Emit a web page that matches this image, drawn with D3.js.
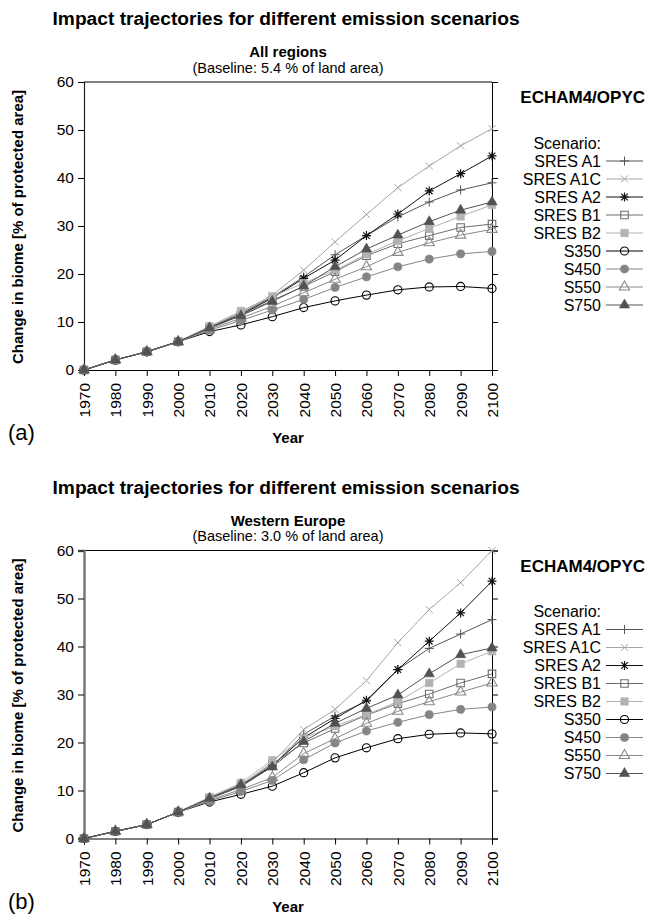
<!DOCTYPE html>
<html>
<head>
<meta charset="utf-8">
<script src="https://cdn.jsdelivr.net/npm/d3@7.9.0/dist/d3.min.js"></script>
<style>
  body { margin: 0; background: #fff; }
  svg { display: block; font-family: "Liberation Sans", Arial, sans-serif; }
</style>
</head>
<body>
<svg id="chart" width="649" height="916"></svg>
<script>
// decades on the x axis
const years = [1970, 1980, 1990, 2000, 2010, 2020, 2030, 2040, 2050, 2060, 2070, 2080, 2090, 2100];
const scenarios = ['SRES A1', 'SRES A1C', 'SRES A2', 'SRES B1', 'SRES B2', 'S350', 'S450', 'S550', 'S750'];

// (a) All regions
const allA1   = [0, 2.1, 3.8, 5.9, 8.9, 11.8, 15.2, 19.4, 24.0, 28.0, 31.9, 35.0, 37.5, 39.0];
const allA1C  = [0, 2.1, 3.8, 5.9, 9.0, 12.0, 15.6, 20.8, 26.7, 32.4, 38.0, 42.5, 46.7, 50.3];
const allA2   = [0, 2.1, 3.8, 5.9, 8.8, 11.5, 15.0, 19.1, 22.9, 28.0, 32.5, 37.3, 40.9, 44.6];
const allB1   = [0, 2.1, 3.8, 5.9, 8.7, 11.4, 14.5, 17.4, 20.5, 23.8, 26.3, 28.0, 29.7, 30.4];
const allB2   = [0, 2.1, 3.8, 5.9, 9.1, 12.3, 15.3, 18.1, 20.8, 24.1, 26.9, 29.5, 32.0, 34.4];
const allS350 = [0, 2.1, 3.8, 5.9, 8.0, 9.4, 11.1, 13.0, 14.4, 15.6, 16.7, 17.3, 17.4, 17.0];
const allS450 = [0, 2.1, 3.8, 5.9, 8.3, 10.3, 12.5, 14.7, 17.2, 19.4, 21.5, 23.1, 24.2, 24.7];
const allS550 = [0, 2.1, 3.8, 5.9, 8.5, 10.8, 13.3, 16.1, 18.9, 21.5, 24.5, 26.5, 28.1, 29.3];
const allS750 = [0, 2.1, 3.8, 5.9, 8.8, 11.3, 14.3, 17.5, 21.5, 25.2, 28.1, 30.9, 33.3, 35.0];

// (b) Western Europe
const weA1   = [0, 1.5, 2.9, 5.5, 8.3, 10.8, 15.0, 21.7, 25.5, 28.6, 35.2, 39.6, 42.6, 45.6];
const weA1C  = [0, 1.5, 2.9, 5.5, 8.5, 11.2, 15.8, 22.7, 26.9, 32.9, 40.8, 47.7, 53.3, 60.0];
const weA2   = [0, 1.5, 2.9, 5.5, 8.4, 11.0, 15.2, 21.0, 25.0, 28.8, 35.2, 41.1, 47.0, 53.6];
const weB1   = [0, 1.5, 2.9, 5.5, 8.3, 11.0, 15.5, 19.9, 22.9, 25.7, 28.1, 30.1, 32.4, 34.3];
const weB2   = [0, 1.5, 2.9, 5.5, 8.6, 11.6, 16.3, 21.0, 23.4, 25.8, 28.5, 32.4, 36.4, 39.0];
const weS350 = [0, 1.5, 2.9, 5.5, 7.6, 9.2, 10.9, 13.7, 16.8, 18.9, 20.8, 21.7, 22.0, 21.8];
const weS450 = [0, 1.5, 2.9, 5.5, 7.8, 9.8, 12.1, 16.4, 19.9, 22.4, 24.2, 25.8, 26.9, 27.4];
const weS550 = [0, 1.5, 2.9, 5.5, 8.0, 10.2, 12.7, 17.7, 20.8, 24.0, 26.5, 28.5, 30.5, 32.4];
const weS750 = [0, 1.5, 2.9, 5.5, 8.4, 11.2, 14.9, 20.2, 24.0, 27.1, 29.9, 34.3, 38.3, 39.7];

const yTicks = [0, 10, 20, 30, 40, 50, 60];

// look of each scenario
const styles = {
  'SRES A1':  { color: '#555', shape: 'plus' },
  'SRES A1C': { color: '#a6a6a6', shape: 'cross' },
  'SRES A2':  { color: '#111', shape: 'star' },
  'SRES B1':  { color: '#6e6e6e', shape: 'squareOpen' },
  'SRES B2':  { color: '#b3b3b3', shape: 'square' },
  'S350':     { color: '#000', shape: 'circleOpen' },
  'S450':     { color: '#858585', shape: 'circle' },
  'S550':     { color: '#8a8a8a', shape: 'triangleOpen' },
  'S750':     { color: '#525252', shape: 'triangle' }
};

const panels = [
  { top: 0, region: 'All regions', base: '(Baseline: 5.4 % of land area)', letter: '(a)',
    series: [allA1, allA1C, allA2, allB1, allB2, allS350, allS450, allS550, allS750], leftAxis: '#222' },
  { top: 468.5, region: 'Western Europe', base: '(Baseline: 3.0 % of land area)', letter: '(b)',
    series: [weA1, weA1C, weA2, weB1, weB2, weS350, weS450, weS550, weS750], leftAxis: '#777' }
];

const svg = d3.select('#chart');

const x = d3.scaleLinear().domain([1970, 2100]).range([84, 492]);
const y = d3.scaleLinear().domain([0, 60]).range([370, 82]);

function drawMarker(g, shape, color) {
  if (shape === 'plus') {
    g.append('path').attr('d', 'M-4.5,0H4.5M0,-4.5V4.5').attr('stroke', color).attr('fill', 'none');
  } else if (shape === 'cross') {
    g.append('path').attr('d', 'M-3.6,-3.6L3.6,3.6M-3.6,3.6L3.6,-3.6').attr('stroke', color).attr('fill', 'none');
  } else if (shape === 'star') {
    g.append('path').attr('d', 'M-4.5,0H4.5M0,-4.5V4.5M-3.3,-3.3L3.3,3.3M-3.3,3.3L3.3,-3.3')
      .attr('stroke', color).attr('fill', 'none').attr('stroke-width', 1.2);
  } else {
    const open = shape.endsWith('Open');
    const base = shape.replace('Open', '');
    const type = { circle: d3.symbolCircle, square: d3.symbolSquare, triangle: d3.symbolTriangle }[base];
    const size = { circle: 52, square: 56, triangle: 46 }[base];
    g.append('path')
      .attr('d', d3.symbol().type(type).size(size)())
      .attr('fill', open ? 'none' : color)
      .attr('stroke', color)
      .attr('stroke-width', open ? 1.1 : 0.6);
  }
}

panels.forEach(p => {
  const g = svg.append('g').attr('transform', `translate(0,${p.top})`);

  g.append('text').attr('x', 52.5).attr('y', 25)
    .attr('font-size', 19.2).attr('font-weight', 'bold')
    .text('Impact trajectories for different emission scenarios');

  g.append('text').attr('x', 288).attr('y', 57).attr('text-anchor', 'middle')
    .attr('font-size', 15).attr('font-weight', 'bold').text(p.region);
  g.append('text').attr('x', 288).attr('y', 72.5).attr('text-anchor', 'middle')
    .attr('font-size', 14.5).text(p.base);

  // frame
  g.append('line').attr('x1', 84).attr('x2', 492).attr('y1', y(60)).attr('y2', y(60)).attr('stroke', '#000');

  const yl = g.append('g').attr('transform', 'translate(84,0)')
    .call(d3.axisLeft(y).tickValues(yTicks).tickSize(6).tickPadding(4));
  yl.select('.domain').attr('stroke', p.leftAxis).attr('stroke-width', p.top ? 2.5 : 1.2);
  yl.selectAll('text').attr('font-size', 15.5);

  const yr = g.append('g').attr('transform', 'translate(492,0)')
    .call(d3.axisRight(y).tickValues(yTicks).tickSize(6).tickFormat(''));

  const xa = g.append('g').attr('transform', 'translate(0,370)')
    .call(d3.axisBottom(x).tickValues(years).tickSize(6).tickFormat(d3.format('d')));
  xa.selectAll('text')
    .attr('font-size', 15.5)
    .attr('text-anchor', 'end')
    .attr('transform', 'translate(0,13) rotate(-90)')
    .attr('x', 0).attr('y', 0).attr('dy', '0.35em');

  [yl, yr, xa].forEach(a => a.attr('font-family', null).attr('font-size', null));

  g.append('text').attr('x', 288).attr('y', 443).attr('text-anchor', 'middle')
    .attr('font-size', 15).attr('font-weight', 'bold').text('Year');

  g.append('text').attr('x', 8).attr('y', 440).attr('font-size', 22).text(p.letter);

  g.append('text')
    .attr('transform', 'translate(23,227) rotate(-90)')
    .attr('text-anchor', 'middle').attr('font-size', 15).attr('font-weight', 'bold')
    .text('Change in biome [% of protected area]');

  // lines
  const line = d3.line().x((d, i) => x(years[i])).y(d => y(d));
  scenarios.forEach((name, k) => {
    const st = styles[name];
    g.append('path').datum(p.series[k])
      .attr('d', line).attr('fill', 'none')
      .attr('stroke', st.color).attr('stroke-width', 1);
  });
  scenarios.forEach((name, k) => {
    const st = styles[name];
    p.series[k].forEach((v, i) => {
      drawMarker(g.append('g').attr('transform', `translate(${x(years[i])},${y(v)})`), st.shape, st.color);
    });
  });

  // legend
  g.append('text').attr('x', 645).attr('y', 103).attr('text-anchor', 'end')
    .attr('font-size', 17).attr('font-weight', 'bold').text('ECHAM4/OPYC');
  g.append('text').attr('x', 601).attr('y', 143).attr('dy', '0.35em')
    .attr('text-anchor', 'end').attr('font-size', 16).text('Scenario:');
  scenarios.forEach((name, k) => {
    const st = styles[name];
    const ry = 161 + k * 18;
    g.append('text').attr('x', 601).attr('y', ry).attr('dy', '0.35em')
      .attr('text-anchor', 'end').attr('font-size', 16).text(name);
    g.append('line').attr('x1', 606).attr('x2', 643).attr('y1', ry).attr('y2', ry)
      .attr('stroke', st.color).attr('stroke-width', 1);
    drawMarker(g.append('g').attr('transform', `translate(624.5,${ry})`), st.shape, st.color);
  });
});
</script>
</body>
</html>
